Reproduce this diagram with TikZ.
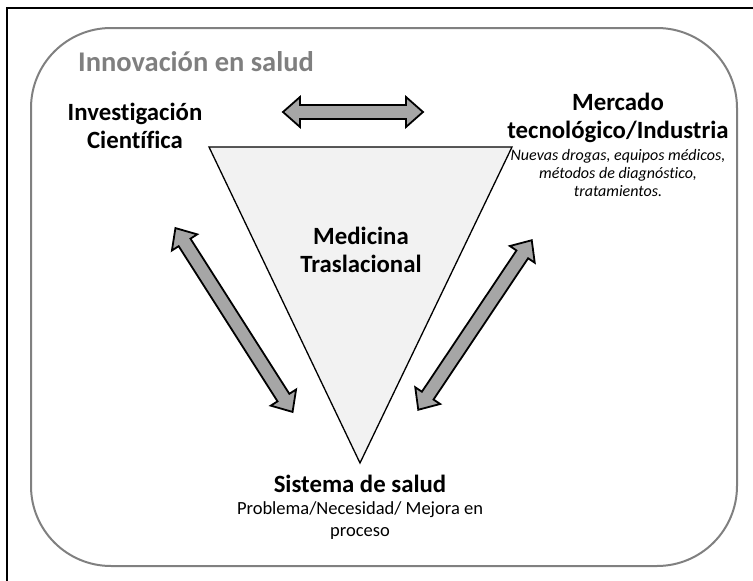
\documentclass[tikz,border=0pt]{standalone}
\usepackage{fontspec}
\setmainfont{Carlito}[Ligatures=NoCommon]
\usepackage{xcolor}
\usetikzlibrary{calc,positioning}
\definecolor{marco}{HTML}{808080}
\definecolor{titulogris}{HTML}{7F7F7F}
\definecolor{flecha}{HTML}{A6A6A6}
\definecolor{triangulo}{HTML}{F2F2F2}

\tikzset{
  x=1pt, y=-1pt,
  etiqueta/.style={align=center, inner sep=0pt, font=\bfseries\fontsize{24.8}{28}\selectfont},
  detalle/.style={align=center, inner sep=0pt, font=\itshape\fontsize{16}{18.2}\selectfont},
  nota/.style={align=center, inner sep=0pt, font=\fontsize{18.5}{22}\selectfont},
  flechabox/.style={draw=black, fill=flecha, line width=1.8pt, line join=miter},
  pics/dobleflecha/.style={code={
    \path[flechabox] (-#1,0) -- (-#1+17,-15) -- (-#1+17,-7) -- (#1-17,-7)
      -- (#1-17,-15) -- (#1,0) -- (#1-17,15) -- (#1-17,7) -- (-#1+17,7)
      -- (-#1+17,15) -- cycle;
  }}
}

\begin{document}
\begin{tikzpicture}
  \useasboundingbox (0,0) rectangle (753,581);
  % marco exterior
  \draw[line width=1.5pt] (7,581) -- (7,8) -- (753,8);
  \draw[marco, line width=2pt, rounded corners=80pt] (31,28) rectangle (737,566);

  \node[text=titulogris, font=\bfseries\fontsize{28.5}{32}\selectfont, inner sep=0pt] (innov) at (196,62) {Innovación en salud};

  % triangulo central
  \coordinate (ti) at (209,147);
  \coordinate (td) at (512,147);
  \coordinate (tb) at (360,463);
  \draw[fill=triangulo, line width=1.3pt, line join=miter] (ti) -- (td) -- (tb) -- cycle;
  \node[etiqueta] (medicina) at (361,250) {Medicina\\Traslacional};

  \node[etiqueta] (invest) at (135,126) {Investigación\\Científica};
  \node[etiqueta] (mercado) at (618,118) {Mercado\\tecnológico/Industria};
  \node[detalle, below=6pt of mercado] (productos) {Nuevas drogas, equipos médicos,\\métodos de diagnóstico,\\tratamientos.};
  \node[etiqueta] (sistema) at (360,484) {Sistema de salud};
  \node[nota, below=8pt of sistema] (problema) {Problema/Necesidad/ Mejora en\\proceso};

  % flechas dobles
  \pic[shift={(353,112)}] {dobleflecha=70};
  \pic[shift={(234,320)}, rotate=-57.5] {dobleflecha=109};
  \pic[shift={(475,325)}, rotate=56.2] {dobleflecha=102};
\end{tikzpicture}
\end{document}
